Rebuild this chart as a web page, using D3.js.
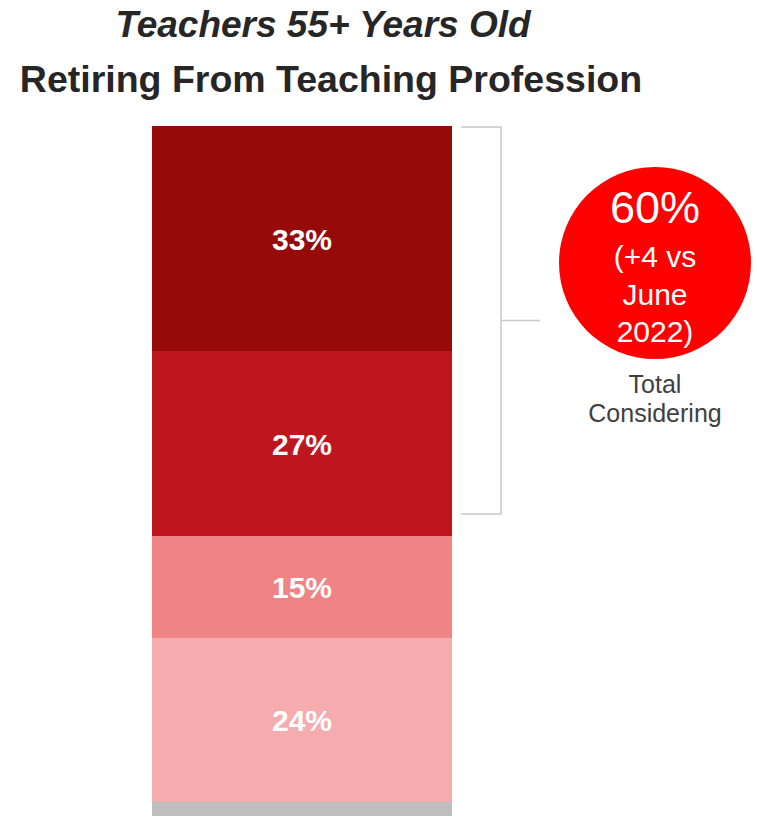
<!DOCTYPE html>
<html>
<head>
<meta charset="utf-8">
<script src="https://cdn.jsdelivr.net/npm/d3@7"></script>
<style>
  html, body { margin: 0; padding: 0; background: #fff; }
  svg { display: block; }
</style>
</head>
<body>
<svg id="chart" width="757" height="821"></svg>
<script>
const categories = ["Definitely", "Probably", "Probably not", "Definitely not", "Don't know"];
const values = [33, 27, 15, 24, 2];
const labels = ["33%", "27%", "15%", "24%", ""];
const colors = ["#960A0A", "#BE161C", "#F08484", "#F5ACAE", "#BFBFBF"];
const totalConsidering = "60%";
const changeLines = ["(+4 vs", "June", "2022)"];
const captionLines = ["Total", "Considering"];
const title1 = "Teachers 55+ Years Old";
const title2 = "Retiring From Teaching Profession";

const svg = d3.select("#chart");
const font = "'Liberation Sans', Arial, Helvetica, sans-serif";

// Titles
svg.append("text").attr("x", 323).attr("y", 37)
  .attr("text-anchor", "middle")
  .attr("font-family", font).attr("font-size", 37)
  .attr("font-weight", "bold").attr("font-style", "italic")
  .attr("fill", "#262626").text(title1);
svg.append("text").attr("x", 331).attr("y", 92)
  .attr("text-anchor", "middle")
  .attr("font-family", font).attr("font-size", 37.5)
  .attr("font-weight", "bold")
  .attr("fill", "#262626").text(title2);

// Stacked bar
const total = d3.sum(values);
const y = d3.scaleLinear().domain([0, total]).range([126, 816]);
const x = d3.scaleBand().domain(["all"]).range([152, 452]).padding(0);

let acc = 0;
const segs = values.map((v, i) => {
  const s = { v, i, start: acc, end: acc + v };
  acc += v;
  return s;
});

svg.selectAll("rect.seg").data(segs).enter().append("rect")
  .attr("class", "seg")
  .attr("x", x("all"))
  .attr("width", x.bandwidth())
  .attr("y", d => Math.round(y(d.start)))
  .attr("height", d => Math.round(y(d.end)) - Math.round(y(d.start)))
  .attr("shape-rendering", "crispEdges")
  .attr("fill", d => colors[d.i]);

svg.selectAll("text.lab").data(segs.filter(d => labels[d.i])).enter().append("text")
  .attr("class", "lab")
  .attr("x", x("all") + x.bandwidth() / 2)
  .attr("y", d => (y(d.start) + y(d.end)) / 2 + 11)
  .attr("text-anchor", "middle")
  .attr("font-family", font).attr("font-size", 30)
  .attr("font-weight", "bold").attr("fill", "#fff")
  .text(d => labels[d.i]);

// Bracket
const bx0 = x("all") + x.bandwidth() + 9;
const bx1 = bx0 + 40;
const bTop = y(0) + 1;
const bBot = y(values[0] + values[1]) - 22;
const bMid = (bTop + bBot) / 2;
const bracket = d3.path();
bracket.moveTo(bx0, bTop); bracket.lineTo(bx1, bTop); bracket.lineTo(bx1, bBot); bracket.lineTo(bx0, bBot);
bracket.moveTo(bx1, bMid); bracket.lineTo(bx1 + 39, bMid);
svg.append("path").attr("d", bracket.toString())
  .attr("fill", "none").attr("stroke", "#C8C8C8").attr("stroke-width", 1.5);

// Circle
const cx = 655, cy = 263, r = 96;
svg.append("circle").attr("cx", cx).attr("cy", cy).attr("r", r).attr("fill", "#FF0000");
svg.append("text").attr("x", cx).attr("y", 223)
  .attr("text-anchor", "middle").attr("font-family", font)
  .attr("font-size", 45).attr("fill", "#fff").text(totalConsidering);
svg.selectAll("text.chg").data(changeLines).enter().append("text")
  .attr("class", "chg")
  .attr("x", cx).attr("y", (d, i) => 267 + i * 37.5)
  .attr("text-anchor", "middle").attr("font-family", font)
  .attr("font-size", 30).attr("fill", "#fff").text(d => d);
svg.selectAll("text.cap").data(captionLines).enter().append("text")
  .attr("class", "cap")
  .attr("x", cx).attr("y", (d, i) => 393 + i * 29)
  .attr("text-anchor", "middle").attr("font-family", font)
  .attr("font-size", 25).attr("fill", "#404040").text(d => d);
</script>
</body>
</html>
